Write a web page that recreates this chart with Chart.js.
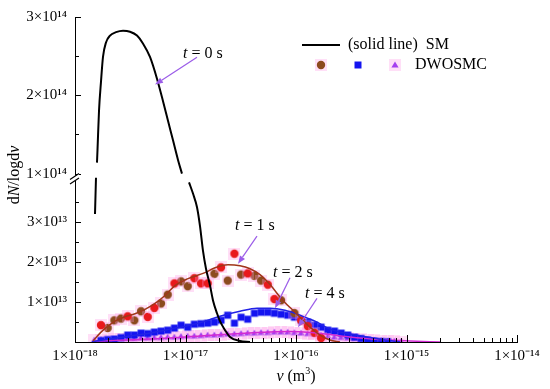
<!DOCTYPE html>
<html><head><meta charset="utf-8">
<script src="https://cdn.jsdelivr.net/npm/chart.js@4.4.0/dist/chart.umd.min.js"></script>
<style>html,body{margin:0;padding:0;background:#fff}#wrap{width:550px;height:389px;position:relative}</style>
</head><body><div id="wrap"><canvas id="c"></canvas></div>
<script>
// ---------- tick labels ----------
const xTickValues = [1e-18, 1e-17, 1e-16, 1e-15, 1e-14];
const xTickLabels = ['1×10⁻¹⁸', '1×10⁻¹⁷', '1×10⁻¹⁶', '1×10⁻¹⁵', '1×10⁻¹⁴'];
const yLowTickValues = [1e13, 2e13, 3e13];
const yLowTickLabels = ['1×10¹³', '2×10¹³', '3×10¹³'];
const yLowMinorTicks = [5e12, 1.5e13, 2.5e13, 3.5e13];
const yHighTickValues = [1e14, 2e14, 3e14];
const yHighTickLabels = ['1×10¹⁴', '2×10¹⁴', '3×10¹⁴'];
const yHighMinorTicks = [1.5e14, 2.5e14];

// ---------- SM (solid lines) ----------
// t = 0 s, part above the axis break
const smT0HighV = [1.581e-18,1.598e-18,1.649e-18,1.719e-18,1.792e-18,1.908e-18,2.074e-18,2.35e-18,2.72e-18,3.146e-18,3.64e-18,4.12e-18,4.772e-18,5.52e-18,6.26e-18,6.944e-18,7.71e-18,8.554e-18,9.29e-18];
const smT0HighN = [1.14e14,1.3e14,1.8e14,2.175e14,2.49e14,2.675e14,2.7625e14,2.806e14,2.825e14,2.8125e14,2.7625e14,2.6625e14,2.49e14,2.2125e14,1.925e14,1.675e14,1.425e14,1.175e14,1.0e14];
// t = 0 s, parts below the axis break
const smT0LowLeftV = [1.517e-18, 1.549e-18];
const smT0LowLeftN = [3.19e13, 4.1e13];
const smT0LowRightV = [1.076e-17,1.169e-17,1.271e-17,1.353e-17,1.440e-17,1.533e-17,1.667e-17,1.774e-17,1.928e-17,2.052e-17,2.278e-17,2.527e-17,3.113e-17,3.835e-17];
const smT0LowRightN = [3.98e13,3.70e13,3.36e13,2.89e13,2.27e13,1.827e13,1.407e13,1.037e13,7.16e12,5.19e12,2.96e12,1.23e12,2.5e11,0];
// t = 1 s
const smT1V = [1.455e-18,1.719e-18,1.989e-18,2.301e-18,2.835e-18,3.491e-18,4.300e-18,5.297e-18,6.523e-18,8.035e-18,1.054e-17,1.502e-17,1.849e-17,2.425e-17,3.113e-17,3.835e-17,4.724e-17,5.817e-17,7.470e-17,9.795e-17,1.339e-16,1.649e-16,2.031e-16,2.502e-16];
const smT1N = [2.5e11,2.47e12,3.95e12,5.19e12,6.3e12,7.04e12,8.15e12,9.63e12,1.16e13,1.407e13,1.58e13,1.728e13,1.852e13,1.926e13,1.901e13,1.827e13,1.679e13,1.432e13,1.062e13,7.41e12,3.7e12,1.73e12,4.9e11,0];
// t = 2 s
const smT2V = [1.425e-18,2.074e-18,3.146e-18,4.772e-18,7.238e-18,1.098e-17,1.502e-17,2.052e-17,3.113e-17,4.438e-17,5.817e-17,7.952e-17,1.087e-16,1.549e-16,2.031e-16,3.081e-16,4.391e-16,6.389e-16,8.734e-16];
const smT2N = [7e10,7.4e11,1.48e12,2.22e12,3.21e12,4.2e12,5.19e12,6.42e12,7.65e12,8.4e12,8.4e12,7.9e12,6.67e12,4.94e12,3.21e12,1.98e12,1.23e12,4.9e11,0];
// t = 4 s
const smT4V = [1.517e-18,4.772e-18,1.352e-17,3.113e-17,5.817e-17,8.823e-17,1.339e-16,2.031e-16,3.081e-16,5.757e-16,1.076e-15,2.01e-15];
const smT4N = [2.5e11,7.4e11,1.48e12,2.1e12,2.47e12,2.59e12,2.35e12,1.85e12,1.23e12,6.2e11,2.5e11,0];

// ---------- DWOSMC (markers) ----------
// t = 1 s circles (two colours)
const dwT1RedV = [1.719e-18,2.998e-18,4.549e-18,5.227e-18,7.931e-18,1.203e-17,1.383e-17,1.589e-17,2.098e-17,2.770e-17,3.658e-17,5.551e-17,6.378e-17,1.112e-16,1.278e-16,1.469e-16,1.688e-16];
const dwT1RedN = [4.2e12,6.4e12,6.25e12,8.5e12,1.46e13,1.59e13,1.46e13,1.46e13,1.86e13,2.2e13,1.71e13,1.43e13,1.07e13,5.4e12,3.95e12,2.3e12,1.0e12];
const dwT1BrownV = [1.975e-18,2.270e-18,2.609e-18,3.445e-18,3.958e-18,6.006e-18,6.902e-18,9.113e-18,1.047e-17,1.826e-17,2.411e-17,3.183e-17,4.204e-17,4.831e-17,7.330e-17,9.678e-17];
const dwT1BrownN = [3.5e12,5.4e12,5.85e12,5.4e12,7.65e12,9.6e12,1.18e13,1.51e13,1.39e13,1.70e13,1.53e13,1.68e13,1.65e13,1.53e13,1.04e13,7.2e12];
// t = 2 s squares
const dwT2V = [1.719e-18,1.975e-18,2.270e-18,2.609e-18,2.998e-18,3.445e-18,3.958e-18,4.549e-18,5.227e-18,6.006e-18,6.902e-18,7.931e-18,9.113e-18,1.047e-17,1.203e-17,1.383e-17,1.589e-17,1.826e-17,2.098e-17,2.411e-17,2.770e-17,3.183e-17,3.658e-17,4.204e-17,4.831e-17,5.551e-17,6.378e-17,7.330e-17,8.423e-17,9.678e-17,1.112e-16,1.278e-16,1.469e-16,1.688e-16,1.939e-16,2.228e-16,2.561e-16,2.943e-16,3.382e-16,3.886e-16,4.465e-16,5.131e-16,5.896e-16,6.776e-16];
const dwT2N = [3.7e11,6.2e11,7.4e11,1.11e12,1.73e12,1.73e12,2.22e12,2.1e12,2.47e12,2.72e12,2.96e12,3.46e12,4.2e12,3.7e12,4.44e12,4.57e12,4.69e12,4.94e12,5.43e12,6.67e12,4.69e12,6.17e12,5.68e12,7.16e12,7.41e12,7.41e12,7.16e12,6.91e12,6.67e12,6.17e12,5.43e12,4.94e12,4.2e12,3.7e12,2.96e12,2.72e12,2.22e12,1.73e12,1.23e12,8.6e11,4.9e11,2.5e11,1.2e11,5e10];
// t = 4 s triangles
const dwT4V = [1.497e-18,1.719e-18,1.975e-18,2.270e-18,2.609e-18,2.998e-18,3.445e-18,3.958e-18,4.549e-18,5.227e-18,6.006e-18,6.902e-18,7.931e-18,9.113e-18,1.047e-17,1.203e-17,1.383e-17,1.589e-17,1.826e-17,2.098e-17,2.411e-17,2.770e-17,3.183e-17,3.658e-17,4.204e-17,4.831e-17,5.551e-17,6.378e-17,7.330e-17,8.423e-17,9.678e-17,1.112e-16,1.278e-16,1.469e-16,1.688e-16,1.939e-16,2.228e-16,2.561e-16,2.943e-16,3.382e-16,3.886e-16,4.465e-16,5.131e-16,5.896e-16,6.776e-16,7.786e-16,8.946e-16];
const dwT4N = [4.9e11,6.2e11,6.2e11,7.4e11,7.4e11,8.6e11,8.6e11,9.9e11,9.9e11,1.11e12,1.11e12,1.23e12,1.23e12,1.36e12,1.48e12,1.48e12,1.6e12,1.73e12,1.73e12,1.85e12,1.98e12,1.98e12,2.1e12,2.22e12,2.22e12,2.35e12,2.35e12,2.47e12,2.47e12,2.47e12,2.35e12,2.22e12,2.1e12,1.98e12,1.73e12,1.48e12,1.23e12,1.11e12,9.9e11,8.6e11,7.4e11,6.2e11,4.9e11,3.7e11,2.5e11,2.5e11,1.2e11];

// ---------- helpers ----------
const pts = (xs, ys) => xs.map((x, i) => ({x, y: ys[i]}));
const SERIF = '"Liberation Serif", "Times New Roman", serif';
const tickFont = {family: SERIF, size: 15};
function labelFor(values, labels, v) {
  for (let i = 0; i < values.length; i++) if (Math.abs(v - values[i]) <= Math.abs(values[i]) * 1e-6) return labels[i];
  return '';
}
function isMajor(values, v) { return labelFor(values, values.map(() => 'x'), v) !== ''; }
function marker(shape, fill, halo) {
  const s = 12, c = document.createElement('canvas');
  c.width = c.height = s;
  const g = c.getContext('2d');
  if (halo) { g.fillStyle = halo; g.fillRect(0, 0, s, s); }
  g.fillStyle = fill; g.beginPath();
  if (shape === 'circle') g.arc(s / 2, s / 2, 4.2, 0, Math.PI * 2);
  else if (shape === 'rect') g.rect(s / 2 - 3.5, s / 2 - 3.5, 7, 7);
  else { g.moveTo(s / 2, s / 2 - 3.6); g.lineTo(s / 2 + 3.6, s / 2 + 2.6); g.lineTo(s / 2 - 3.6, s / 2 + 2.6); g.closePath(); }
  g.fill();
  return c;
}
const HALO = 'rgba(255,150,230,0.3)';
const RED = '#e8191c', BROWN = '#8c4b1e', BLUE = '#1414f0', PURPLE = '#a53ff0';
const mRed = marker('circle', RED, HALO), mBrown = marker('circle', BROWN, HALO);
const mBlue = marker('rect', BLUE, null), mTri = marker('tri', PURPLE, HALO);

const xMinor = [];
for (let i = 0; i < xTickValues.length - 1; i++) for (let m = 2; m <= 9; m++) xMinor.push(m * xTickValues[i]);

function lineDs(data, color, width, axis) {
  return {type: 'scatter', data, yAxisID: axis, showLine: true, borderColor: color, borderWidth: width,
    pointRadius: 0, fill: false, cubicInterpolationMode: 'monotone'};
}
function markDs(data, style) {
  return {type: 'scatter', data, yAxisID: 'yLow', showLine: false, pointStyle: style, pointRadius: 6,
    backgroundColor: 'transparent', borderColor: 'transparent'};
}

// ---------- plugins ----------
const ARROW = '#9b5ce8';
const annotations = [
  {t: '0', axis: 'yHigh', label: [9.49e-18, 2.525e14], tail: [1.271e-17, 2.4875e14], head: [5.297e-18, 2.1375e14]},
  {t: '1', axis: 'yLow', label: [2.805e-17, 2.89e13], tail: [4.437e-17, 2.64e13], head: [2.985e-17, 1.95e13]},
  {t: '2', axis: 'yLow', label: [6.19e-17, 1.73e13], tail: [8.83e-17, 1.6e13], head: [6.46e-17, 8.4e12]},
  {t: '4', axis: 'yLow', label: [1.206e-16, 1.21e13], tail: [1.549e-16, 1.086e13], head: [1.042e-16, 3.7e12]}
];
function drawRich(ctx, parts, x, y) {
  let cx = x;
  for (const [txt, style, size, dy] of parts) {
    ctx.font = `${style} ${size}px ${SERIF}`;
    ctx.fillText(txt, cx, y + (dy || 0));
    cx += ctx.measureText(txt).width;
  }
  return cx - x;
}
function richWidth(ctx, parts) {
  let w = 0;
  for (const [txt, style, size] of parts) { ctx.font = `${style} ${size}px ${SERIF}`; w += ctx.measureText(txt).width; }
  return w;
}
const decor = {
  id: 'decor',
  afterDraw(chart) {
    const ctx = chart.ctx, sx = chart.scales.x, yl = chart.scales.yLow, yh = chart.scales.yHigh, ca = chart.chartArea;
    ctx.save();
    // inward ticks
    ctx.strokeStyle = '#000'; ctx.lineWidth = 1;
    ctx.beginPath();
    sx.ticks.forEach(t => {
      const px = Math.round(sx.getPixelForValue(t.value)) + 0.5;
      const len = isMajor(xTickValues, t.value) ? 7 : 4;
      ctx.moveTo(px, ca.bottom); ctx.lineTo(px, ca.bottom - len);
    });
    [[yl, yLowTickValues], [yh, yHighTickValues]].forEach(([s, maj]) => {
      s.ticks.forEach(t => {
        const py = Math.round(s.getPixelForValue(t.value)) + 0.5;
        const len = isMajor(maj, t.value) ? 6 : 4;
        ctx.moveTo(ca.left, py); ctx.lineTo(ca.left + len, py);
      });
    });
    ctx.stroke();
    // axis break marks
    const by = yl.top, bx = ca.left;
    ctx.fillStyle = '#fff';
    ctx.beginPath();
    ctx.moveTo(bx - 5, by + 2); ctx.lineTo(bx + 4, by - 4); ctx.lineTo(bx + 4, by + 0.5); ctx.lineTo(bx - 5, by + 6.5); ctx.closePath();
    ctx.fill();
    ctx.beginPath(); ctx.lineWidth = 1.2;
    ctx.moveTo(bx - 5, by + 2); ctx.lineTo(bx + 4, by - 4);
    ctx.moveTo(bx - 5, by + 6.5); ctx.lineTo(bx + 4, by + 0.5);
    ctx.stroke();
    // annotations
    ctx.fillStyle = '#000'; ctx.textBaseline = 'middle'; ctx.textAlign = 'left';
    annotations.forEach(a => {
      const ys = chart.scales[a.axis];
      drawRich(ctx, [['t', 'italic', 16], [' = ' + a.t + ' s', 'normal', 16]], sx.getPixelForValue(a.label[0]), ys.getPixelForValue(a.label[1]));
      const x1 = sx.getPixelForValue(a.tail[0]), y1 = ys.getPixelForValue(a.tail[1]);
      const x2 = sx.getPixelForValue(a.head[0]), y2 = ys.getPixelForValue(a.head[1]);
      const ang = Math.atan2(y2 - y1, x2 - x1), L = 8, W = 3;
      ctx.strokeStyle = ARROW; ctx.fillStyle = ARROW; ctx.lineWidth = 1.2;
      ctx.beginPath(); ctx.moveTo(x1, y1); ctx.lineTo(x2 - L * Math.cos(ang), y2 - L * Math.sin(ang)); ctx.stroke();
      ctx.beginPath(); ctx.moveTo(x2, y2);
      ctx.lineTo(x2 - L * Math.cos(ang) + W * Math.sin(ang), y2 - L * Math.sin(ang) - W * Math.cos(ang));
      ctx.lineTo(x2 - L * Math.cos(ang) - W * Math.sin(ang), y2 - L * Math.sin(ang) + W * Math.cos(ang));
      ctx.closePath(); ctx.fill();
      ctx.fillStyle = '#000';
    });
    // legend
    ctx.strokeStyle = '#000'; ctx.lineWidth = 2;
    ctx.beginPath(); ctx.moveTo(302, 45); ctx.lineTo(340, 45); ctx.stroke();
    ctx.fillStyle = '#000';
    drawRich(ctx, [['(solid line)  SM', 'normal', 16]], 348, 45);
    ctx.drawImage(mBrown, 321 - 6, 65 - 6);
    ctx.drawImage(mBlue, 358 - 6, 65 - 6);
    ctx.drawImage(mTri, 395 - 6, 65 - 6);
    ctx.fillStyle = '#000';
    drawRich(ctx, [['DWOSMC', 'normal', 16]], 415, 65);
    // axis titles
    const yt = [['d', 'normal', 16], ['N', 'italic', 16], ['/log', 'normal', 16], ['d', 'normal', 16], ['v', 'italic', 16]];
    ctx.save(); ctx.translate(15, 175); ctx.rotate(-Math.PI / 2);
    drawRich(ctx, yt, -richWidth(ctx, yt) / 2, 0);
    ctx.restore();
    const xt = [['v', 'italic', 16], [' (m', 'normal', 16], ['3', 'normal', 10, -6], [')', 'normal', 16]];
    drawRich(ctx, xt, 296 - richWidth(ctx, xt) / 2, 377);
    ctx.restore();
  }
};

// ---------- chart ----------
new Chart(document.getElementById('c'), {
  type: 'scatter',
  data: {datasets: [
    lineDs(pts(smT0HighV, smT0HighN), '#000', 2, 'yHigh'),
    lineDs(pts(smT0LowLeftV, smT0LowLeftN), '#000', 2, 'yLow'),
    lineDs(pts(smT0LowRightV, smT0LowRightN), '#000', 2, 'yLow'),
    lineDs(pts(smT1V, smT1N), '#a0361a', 1.5, 'yLow'),
    lineDs(pts(smT2V, smT2N), '#2222e6', 1.5, 'yLow'),
    lineDs(pts(smT4V, smT4N), '#d22ad2', 1.5, 'yLow'),
    markDs(pts(dwT1RedV, dwT1RedN), mRed),
    markDs(pts(dwT1BrownV, dwT1BrownN), mBrown),
    markDs(pts(dwT2V, dwT2N), mBlue),
    markDs(pts(dwT4V, dwT4N), mTri)
  ]},
  options: {
    responsive: true, maintainAspectRatio: false, animation: false, devicePixelRatio: 1,
    layout: {padding: {top: 14, right: 33, left: 0, bottom: 0}},
    plugins: {legend: {display: false}, tooltip: {enabled: false}},
    scales: {
      x: {
        type: 'logarithmic', position: 'bottom', min: 1e-18, max: 1e-14,
        grid: {drawOnChartArea: false, drawTicks: false},
        border: {display: true, color: '#000', width: 1},
        ticks: {padding: 5, font: tickFont, color: '#000', maxRotation: 0, autoSkip: false,
          callback: function (v) { return labelFor(xTickValues, xTickLabels, v); }},
        afterBuildTicks: s => { s.ticks = [...xTickValues, ...xMinor].sort((a, b) => a - b).map(v => ({value: v})); },
        afterFit: s => { s.height = 47; }
      },
      yLow: {
        type: 'linear', position: 'left', stack: 'yb', stackWeight: 166, min: 0, max: 4.1e13,
        grid: {drawOnChartArea: false, drawTicks: false},
        border: {display: true, color: '#000', width: 1},
        ticks: {padding: 8, font: tickFont, color: '#000', autoSkip: false,
          callback: function (v) { return labelFor(yLowTickValues, yLowTickLabels, v); }},
        afterBuildTicks: s => { s.ticks = [...yLowTickValues, ...yLowMinorTicks].sort((a, b) => a - b).map(v => ({value: v})); },
        afterFit: s => { s.width = 75; }
      },
      yHigh: {
        type: 'linear', position: 'left', stack: 'yb', stackWeight: 162, min: 0.95e14, max: 3e14,
        grid: {drawOnChartArea: false, drawTicks: false},
        border: {display: true, color: '#000', width: 1},
        ticks: {padding: 8, font: tickFont, color: '#000', autoSkip: false,
          callback: function (v) { return labelFor(yHighTickValues, yHighTickLabels, v); }},
        afterBuildTicks: s => { s.ticks = [...yHighTickValues, ...yHighMinorTicks].sort((a, b) => a - b).map(v => ({value: v})); },
        afterFit: s => { s.width = 75; }
      }
    }
  },
  plugins: [decor]
});
</script></body></html>
